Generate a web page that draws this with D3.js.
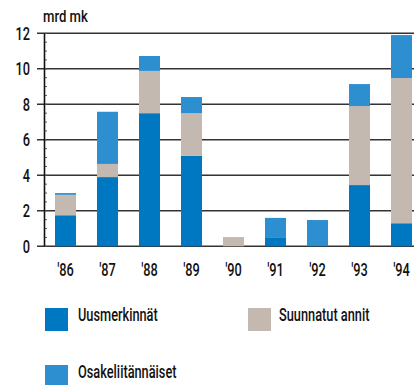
<!DOCTYPE html>
<html>
<head>
<meta charset="utf-8">
<script src="https://cdn.jsdelivr.net/npm/d3@7"></script>
<style>
  html, body { margin: 0; padding: 0; background: #fff; }
  svg { display: block; }
  text { font-family: Roboto, "Noto Sans", sans-serif; fill: #111; }
</style>
</head>
<body>
<svg id="chart" width="414" height="385"></svg>
<script>
// Share issues by year, billions of marks (mrd mk)
const years = ["'86", "'87", "'88", "'89", "'90", "'91", "'92", "'93", "'94"];
const uusmerkinnat = [1.75, 3.9, 7.5, 5.1, 0, 0.47, 0.05, 3.45, 1.3];
const suunnatutAnnit = [1.15, 0.74, 2.38, 2.4, 0.52, 0, 0, 4.45, 8.18];
const osakeliitannaiset = [0.1, 2.94, 0.84, 0.91, 0, 1.13, 1.43, 1.24, 2.42];
const yTicks = [0, 2, 4, 6, 8, 10, 12];

const seriesNames = ["Uusmerkinnät", "Suunnatut annit", "Osakeliitännäiset"];
const seriesKeys = ["uus", "suun", "osake"];
const colors = { uus: "#0078c1", suun: "#c3b9b1", osake: "#2e8fd0" };

// Horizontal squeeze to give the labels a condensed look
const SQUEEZE = 0.71;

const rows = years.map((y, i) => ({
  year: y,
  uus: uusmerkinnat[i],
  suun: suunnatutAnnit[i],
  osake: osakeliitannaiset[i]
}));

const svg = d3.select("#chart");

const x = d3.scaleBand()
  .domain(years)
  .range([44.5, 422.5])
  .paddingInner(0.5)
  .paddingOuter(0.25);

const y = d3.scaleLinear().domain([0, 12]).range([246.3, 33.3]);

function label(sel, tx, ty, sq = SQUEEZE) {
  return sel.attr("transform", (d, i) => `translate(${tx(d, i)},${ty(d, i)}) scale(${sq},1)`);
}

// Horizontal gridlines
svg.append("g")
  .selectAll("line")
  .data(yTicks)
  .join("line")
  .attr("x1", 37).attr("x2", 414)
  .attr("y1", d => y(d)).attr("y2", d => y(d))
  .attr("stroke", "#333")
  .attr("stroke-width", 1.6);

// Stacked bars
const layers = d3.stack().keys(seriesKeys)(rows);

svg.append("g")
  .selectAll("g")
  .data(layers)
  .join("g")
  .attr("fill", d => colors[d.key])
  .selectAll("rect")
  .data(d => d)
  .join("rect")
  .attr("x", d => x(d.data.year))
  .attr("width", x.bandwidth())
  .attr("y", d => y(d[1]))
  .attr("height", d => Math.max(0, y(d[0]) - y(d[1])));

// Vertical axis line with minor ticks every 0.5
svg.append("line")
  .attr("x1", 44.5).attr("x2", 44.5)
  .attr("y1", y(12)).attr("y2", y(0))
  .attr("stroke", "#111").attr("stroke-width", 1.6);

svg.append("g")
  .selectAll("line")
  .data(d3.range(0, 12.01, 0.5))
  .join("line")
  .attr("x1", 45).attr("x2", 47)
  .attr("y1", d => y(d)).attr("y2", d => y(d))
  .attr("stroke", "#555").attr("stroke-width", 1);

// Y tick labels
label(svg.append("g")
  .selectAll("text")
  .data(yTicks)
  .join("text"), () => 30, d => y(d))
  .attr("dy", "0.36em")
  .attr("text-anchor", "end")
  .attr("font-size", 18)
  .attr("font-weight", 500)
  .text(d => d);

// Unit label
label(svg.append("text"), () => 43, () => 22, 0.82)
  .attr("font-size", 16)
  .attr("font-weight", 500)
  .text("mrd mk");

// X labels
label(svg.append("g")
  .selectAll("text")
  .data(years)
  .join("text"), d => x(d) + x.bandwidth() / 2, () => 276)
  .attr("text-anchor", "middle")
  .attr("font-size", 18)
  .attr("font-weight", 500)
  .text(d => d);

// Legend
const legendPos = [
  { sx: 45, sy: 308, tx: 78, ty: 321 },
  { sx: 248, sy: 308, tx: 279, ty: 321 },
  { sx: 45, sy: 365, tx: 78, ty: 378 }
];
const legend = svg.append("g")
  .selectAll("g")
  .data(seriesKeys)
  .join("g");
legend.append("rect")
  .attr("x", (d, i) => legendPos[i].sx)
  .attr("y", (d, i) => legendPos[i].sy)
  .attr("width", 23).attr("height", 23)
  .attr("fill", d => colors[d]);
label(legend.append("text"), (d, i) => legendPos[i].tx, (d, i) => legendPos[i].ty)
  .attr("font-size", 18)
  .attr("font-weight", 500)
  .text((d, i) => seriesNames[i]);
</script>
</body>
</html>
